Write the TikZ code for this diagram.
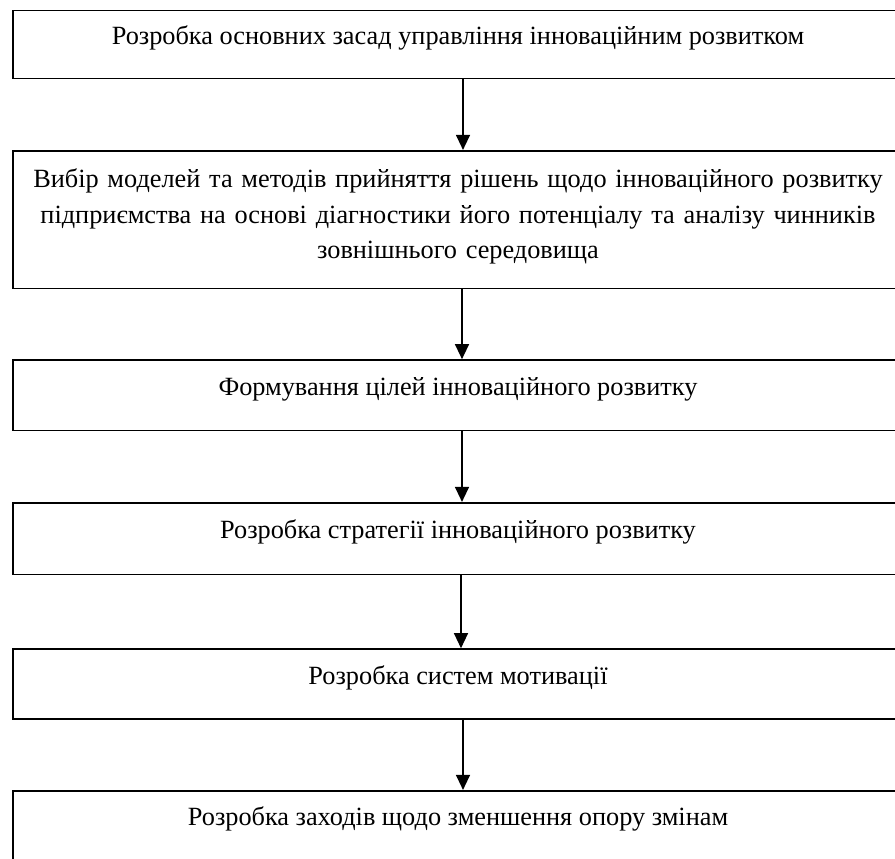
\documentclass[tikz,border=0pt]{standalone}
\usepackage{fontspec}
\setmainfont{Liberation Serif}
\usepackage{tikz}
\usetikzlibrary{arrows.meta,positioning}

\begin{document}
\begin{tikzpicture}[x=1pt,y=-1pt,
    stage/.style={rectangle,draw,line width=1.6pt,minimum width=890pt,inner sep=4pt,
        font=\fontsize{26.3}{35.6}\selectfont},
    oneline/.style={text height=15pt,text depth=15pt},
    flow/.style={line width=1.3pt,-{Triangle[width=14pt,length=15pt]}}]
    \useasboundingbox (0,0) rectangle (895,859);
    \clip (0,0) rectangle (895,859);

    \node[stage,oneline,minimum height=68pt] (B1) at (458,44.7) {Розробка основних засад управління інноваційним розвитком};
    \node[stage,minimum height=137.6pt,text width=880pt,align=center] (B2) at (458,219.5) {Вибір моделей та методів прийняття рішень щодо інноваційного розвитку\\ підприємства на основі діагностики його потенціалу та аналізу чинників\\ зовнішнього середовища\vspace{6pt}};
    \node[stage,oneline,minimum height=70.7pt] (B3) at (458,395.3) {Формування цілей інноваційного розвитку};
    \node[stage,oneline,minimum height=71.6pt] (B4) at (458,538.5) {Розробка стратегії інноваційного розвитку};
    \node[stage,oneline,minimum height=70pt] (B5) at (458,684) {Розробка систем мотивації};
    \node[stage,oneline,minimum height=70pt] (B6) at (458,825.7) {Розробка заходів щодо зменшення опору змінам};

    \draw[flow] ([xshift=5pt]B1.south) -- ([xshift=5pt]B2.north);
    \draw[flow] ([xshift=4pt]B2.south) -- ([xshift=4pt]B3.north);
    \draw[flow] ([xshift=4pt]B3.south) -- ([xshift=4pt]B4.north);
    \draw[flow] ([xshift=3pt]B4.south) -- ([xshift=3pt]B5.north);
    \draw[flow] ([xshift=5pt]B5.south) -- ([xshift=5pt]B6.north);
\end{tikzpicture}
\end{document}
